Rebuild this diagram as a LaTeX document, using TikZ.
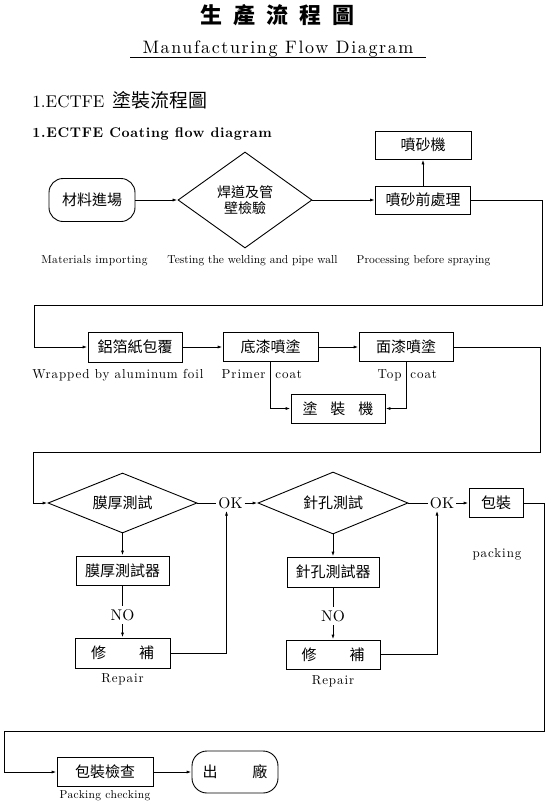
\documentclass[tikz,border=0pt]{standalone}
\usepackage{fontspec}
\setmainfont{lmroman10-regular.otf}[BoldFont=lmroman10-bold.otf,ItalicFont=lmroman10-italic.otf]
\newfontfamily\cjk{Noto Sans CJK TC}
\usetikzlibrary{arrows.meta,shapes.geometric}
\newcommand\myfs[1]{\fontsize{#1}{#1}\selectfont}
\newcommand\myls[1]{\addfontfeatures{LetterSpace=#1}}
\begin{document}
\begin{tikzpicture}[x=1pt,y=-1pt,line width=0.9pt,
  box/.style={draw,rectangle,inner sep=0pt,font=\cjk\myfs{15}},
  rbox/.style={box,rounded corners=14pt},
  dia/.style={draw,diamond,shape aspect=2.5,inner sep=0pt,font=\cjk\myfs{15}},
  lab/.style={inner sep=0pt,font=\myfs{13}\myls{7}},
  lab1/.style={inner sep=0pt,font=\myfs{11.5}},
  okl/.style={inner sep=1.5pt,font=\myfs{15.5}},
  arr/.style={-{Latex[length=5pt,width=3pt]}}]
\useasboundingbox (0,0) rectangle (550,804);

% headings
\node[inner sep=0pt,font=\cjk\bfseries\myfs{22}] (title) at (277,15)
  {生\hspace{0.5em}產\hspace{0.5em}流\hspace{0.5em}程\hspace{0.5em}圖};
\node[inner sep=0pt,anchor=base,font=\myfs{18}\myls{9}] (mfd) at (278,53)
  {Manufacturing Flow Diagram};
\draw[line width=1.1pt] (130,57.5) -- (426,57.5);
\node[inner sep=0pt,anchor=base west,font=\myfs{17}] (sec) at (32,107)
  {1.ECTFE\hspace{8pt}{\cjk\myfs{19}塗裝流程圖}};
\node[inner sep=0pt,anchor=base west,font=\bfseries\myfs{14}\myls{5}] (sub) at (32,137.5)
  {1.ECTFE Coating flow diagram};

% row 1
\node[rbox,minimum width=86pt,minimum height=43pt] (a1) at (92,200) {材料進場};
\node[dia,minimum width=134pt,minimum height=96pt,align=center,
      font=\cjk\fontsize{14}{16}\selectfont] (d1) at (245,200) {焊道及管\\壁檢驗};
\node[box,minimum width=95pt,minimum height=28pt] (b1) at (423,200) {噴砂前處理};
\node[box,minimum width=96pt,minimum height=28pt] (b0) at (423,145) {噴砂機};
\node[lab1,anchor=base,font=\myfs{11.5}\myls{3}] (t1) at (94.5,263) {Materials importing};
\node[lab1,anchor=base] (t2) at (252.5,263) {Testing the welding and pipe wall};
\node[lab1,anchor=base] (t3) at (423.5,263) {Processing before spraying};
\draw[arr] (a1) -- (d1);
\draw[arr] (d1) -- (b1);
\draw[arr] (b1) -- (b0);

% row 2
\node[box,minimum width=94pt,minimum height=30pt] (b2) at (135,347) {鋁箔紙包覆};
\node[box,minimum width=95pt,minimum height=29pt] (b3) at (270.5,347) {底漆噴塗};
\node[box,minimum width=94pt,minimum height=29pt] (b4) at (406,347) {面漆噴塗};
\node[box,minimum width=94pt,minimum height=29pt] (b5) at (338,408.5)
  {塗\hspace{13pt}裝\hspace{13pt}機};
\node[lab,anchor=base west] (t4) at (32,378) {Wrapped by aluminum foil};
\node[lab,anchor=base east] (t5) at (266,378) {Primer};
\node[lab,anchor=base west] (t6) at (275,378) {coat};
\node[lab,anchor=base east] (t7) at (402,378) {Top};
\node[lab,anchor=base west] (t8) at (410,378) {coat};
\coordinate (L1a) at (542,305);
\coordinate (L1b) at (34,305);
\draw[arr] (b1.east) -| (L1a) -- (L1b) |- (b2.west);
\draw[arr] (b2) -- (b3);
\draw[arr] (b3) -- (b4);
\draw[arr] (b3.south) |- (b5.west);
\draw[arr] (b4.south) |- (b5.east);

% row 3
\node[dia,minimum width=149pt,minimum height=60pt] (d2) at (122.5,503) {膜厚測試};
\node[okl] (ok1) at (230.5,503) {OK};
\node[dia,minimum width=150pt,minimum height=62pt] (d3) at (333,503) {針孔測試};
\node[okl] (ok2) at (442,503) {OK};
\node[box,minimum width=54pt,minimum height=29pt] (p1) at (496,503) {包裝};
\node[lab] (t9) at (497,554) {packing};
\node[box,minimum width=93pt,minimum height=29pt] (c1) at (122.5,570.5) {膜厚測試器};
\node[okl,inner sep=3pt] (no1) at (122.5,615) {NO};
\node[box,minimum width=95pt,minimum height=30pt] (r1) at (122.5,653)
  {修\hspace{33pt}補};
\node[lab] (t10) at (122.5,679) {Repair};
\node[box,minimum width=92pt,minimum height=30pt] (c2) at (333,572) {針孔測試器};
\node[okl,inner sep=3pt] (no2) at (333,616) {NO};
\node[box,minimum width=94pt,minimum height=29pt] (r2) at (333,654.5)
  {修\hspace{33pt}補};
\node[lab] (t11) at (333,681) {Repair};
\coordinate (L2a) at (540,452);
\coordinate (L2b) at (33,452);
\draw[arr] (b4.east) -| (L2a) -- (L2b) |- (d2.west);
\draw (d2.east) -- (ok1.west);
\draw[arr] (ok1.east) -- (d3.west);
\draw (d3.east) -- (ok2.west);
\draw[arr] (ok2.east) -- (p1.west);
\draw[arr] (d2.south) -- (c1.north);
\draw (c1.south) -- (no1.north);
\draw[arr] (no1.south) -- (r1.north);
\draw[arr] (r1.east) -| ([xshift=-4pt]ok1.south);
\draw[arr] (d3.south) -- (c2.north);
\draw (c2.south) -- (no2.north);
\draw[arr] (no2.south) -- (r2.north);
\draw[arr] (r2.east) -| ([xshift=-5pt]ok2.south);

% row 4
\node[box,minimum width=96pt,minimum height=29pt] (k1) at (105,772) {包裝檢查};
\node[box,rounded corners=15pt,minimum width=86pt,minimum height=42pt] (e1) at (235,772)
  {出\hspace{35pt}廠};
\node[inner sep=0pt,font=\myfs{11.5}\myls{3}] (t12) at (105,796) {Packing checking};
\coordinate (L3a) at (544,731);
\coordinate (L3b) at (4,731);
\draw[arr] (p1.east) -| (L3a) -- (L3b) |- (k1.west);
\draw[arr] (k1) -- (e1);
\end{tikzpicture}
\end{document}
